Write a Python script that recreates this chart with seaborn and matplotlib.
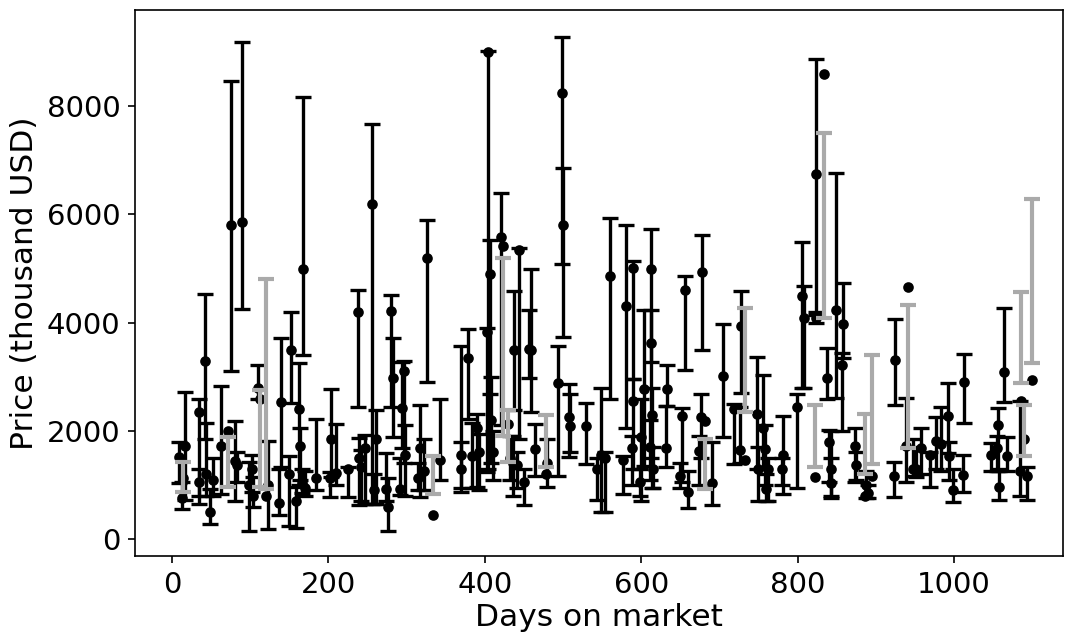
import pandas as pd
import matplotlib
matplotlib.use('Agg')
import matplotlib.pyplot as plt
import seaborn as sns

# =============================================================================
# Data
# =============================================================================
days = [9, 13, 14, 16, 34, 35, 42, 44, 49, 53, 62, 71, 76, 80, 83, 90, 98, 102, 104, 110,
        112, 120, 123, 137, 139, 150, 152, 158, 162, 164, 166, 168, 170, 184, 202, 203, 210, 225, 238, 239,
        241, 247, 256, 258, 261, 274, 276, 280, 282, 292, 294, 296, 298, 314, 317, 322, 326, 334, 343, 369,
        370, 378, 384, 390, 392, 403, 404, 406, 408, 410, 421, 423, 430, 432, 436, 437, 441, 443, 450, 457,
        459, 464, 478, 480, 494, 499, 500, 508, 509, 529, 544, 548, 554, 560, 576, 580, 588, 589, 590, 598,
        599, 604, 611, 612, 613, 614, 615, 632, 633, 650, 652, 656, 660, 674, 676, 677, 681, 690, 705, 718,
        726, 727, 733, 748, 749, 756, 758, 760, 762, 780, 781, 799, 806, 808, 822, 823, 824, 833, 838, 840,
        842, 843, 849, 857, 858, 873, 874, 886, 887, 890, 895, 923, 924, 938, 941, 948, 951, 957, 969, 977,
        983, 992, 993, 999, 1011, 1012, 1047, 1055, 1056, 1057, 1064, 1068, 1084, 1086, 1089, 1093, 1099]

price = [1520, 760, 1130, 1720, 1060, 2350, 3300, 1200, 500, 1100, 1720, 1990, 5800, 1450, 1360, 5870, 1000, 1300, 800, 2800,
         2580, 790, 1000, 670, 2540, 1200, 3500, 700, 2400, 1720, 1030, 5000, 950, 1130, 1130, 1850, 1230, 1300, 4200, 1490,
         1330, 1690, 6200, 900, 1850, 930, 600, 4220, 2980, 930, 2420, 3100, 1560, 1130, 1690, 1250, 5200, 440, 1460, 1560,
         1290, 3340, 1530, 2050, 1600, 3830, 9000, 4900, 2200, 1600, 5580, 5420, 2120, 1490, 1400, 3500, 1360, 5350, 1060, 3520,
         3500, 1660, 1200, 1400, 2890, 8240, 5800, 2250, 2090, 2090, 1300, 1560, 1500, 4860, 1460, 4300, 1690, 5020, 2550, 1060,
         1890, 2780, 1700, 3620, 4990, 2300, 1300, 1690, 2780, 1160, 2280, 4610, 870, 1620, 2250, 4930, 2180, 1030, 3020, 2400,
         1650, 3930, 1460, 2320, 1290, 2050, 1660, 930, 1290, 1300, 1560, 2450, 4500, 4080, 1150, 6740, 4090, 8590, 2980, 1790,
         1030, 1300, 4230, 3220, 3970, 1720, 1360, 800, 1000, 850, 1160, 1160, 3310, 1720, 4660, 1290, 1300, 1690, 1560, 1820,
         1760, 2280, 1530, 910, 1180, 2910, 1560, 1690, 2100, 960, 3080, 1530, 1260, 2550, 1850, 1160, 2940]

lower = [1030, 560, 865, 730, 800, 640, 1850, 800, 270, 800, 830, 960, 3110, 700, 1050, 4260, 150, 870, 600, 2580,
         960, 930, 180, 440, 1330, 240, 2510, 200, 1000, 1100, 850, 3410, 800, 900, 770, 1150, 1000, 770, 2450, 630,
         700, 640, 640, 640, 640, 700, 140, 2450, 1890, 820, 1680, 1400, 800, 900, 770, 900, 2910, 830, 1100, 870,
         950, 2220, 940, 960, 900, 1240, 1300, 2680, 1400, 1100, 2100, 1900, 1430, 1100, 800, 2380, 950, 1850, 630, 2980,
         2350, 1160, 1330, 960, 1160, 5080, 3740, 1520, 1600, 1390, 730, 500, 500, 2580, 830, 2050, 1000, 2960, 1300, 800,
         700, 1350, 1100, 1500, 3270, 950, 950, 1330, 2460, 950, 1050, 3130, 570, 1000, 1500, 3490, 930, 630, 1880, 1390,
         1400, 2700, 2340, 1300, 700, 1300, 1000, 700, 700, 1000, 830, 950, 2800, 2790, 1330, 4200, 4000, 4080, 2580, 1050,
         800, 750, 2610, 1990, 3340, 1060, 1100, 1200, 750, 750, 1390, 770, 2480, 1060, 1690, 1160, 1150, 1200, 960, 1290,
         1260, 1590, 1100, 690, 870, 2150, 1260, 1250, 1300, 730, 2540, 1260, 800, 2890, 1530, 730, 3260]

upper = [1790, 1050, 1430, 2710, 1300, 2580, 4530, 2150, 930, 1500, 2830, 1890, 8460, 2190, 1600, 9190, 1430, 1550, 1150, 3210,
         2750, 4800, 1820, 1300, 3720, 1530, 4200, 960, 3250, 2050, 1300, 8170, 1250, 2220, 1240, 2780, 2120, 1330, 4610, 1860,
         1650, 1920, 7680, 1200, 2380, 1590, 1130, 4520, 3720, 1500, 3280, 3300, 2100, 1400, 2480, 1850, 5900, 1530, 2580, 3570,
         1800, 3880, 2150, 2320, 1950, 3900, 9020, 5520, 3000, 2000, 6400, 5200, 2380, 1900, 1900, 4590, 1600, 5380, 1300, 4230,
         4990, 2120, 2300, 1850, 3570, 9290, 6860, 2870, 2680, 2520, 1500, 2800, 1600, 5930, 1540, 5800, 1900, 5140, 2960, 1300,
         2580, 4230, 2200, 4230, 5740, 2800, 1700, 2460, 3220, 1400, 2430, 4860, 1260, 1900, 2680, 5620, 1850, 1790, 3970, 2500,
         2450, 4580, 4280, 3360, 1700, 3040, 2100, 1200, 1500, 1500, 2270, 2680, 5500, 4670, 2470, 8880, 4150, 7510, 3540, 2020,
         1500, 2000, 6770, 3440, 4730, 2050, 1600, 2320, 1250, 1000, 3410, 1430, 4070, 2610, 4330, 1850, 1700, 2050, 1600, 2250,
         2450, 2890, 1800, 1290, 1560, 3420, 1770, 1900, 2420, 1250, 4280, 1890, 2550, 4560, 2480, 1330, 6280]

# 1 = interval drawn in gray
missed = [0, 0, 1, 0, 0, 0, 0, 0, 0, 0, 0, 1, 0, 0, 0, 0, 0, 0, 0, 0,
          1, 1, 0, 0, 0, 0, 0, 0, 0, 0, 0, 0, 0, 0, 0, 0, 0, 0, 0, 0,
          0, 0, 0, 0, 0, 0, 0, 0, 0, 0, 0, 0, 0, 0, 0, 0, 0, 1, 0, 0,
          0, 0, 0, 0, 0, 0, 0, 0, 0, 0, 0, 1, 1, 0, 0, 0, 0, 0, 0, 0,
          0, 0, 1, 0, 0, 0, 0, 0, 0, 0, 0, 0, 0, 0, 0, 0, 0, 0, 0, 0,
          0, 0, 0, 0, 0, 0, 0, 0, 0, 0, 0, 0, 0, 0, 0, 0, 1, 0, 0, 0,
          0, 0, 1, 0, 0, 0, 0, 0, 0, 0, 0, 0, 0, 0, 1, 0, 0, 1, 0, 0,
          0, 0, 0, 0, 0, 0, 0, 1, 0, 0, 1, 0, 0, 0, 1, 0, 0, 0, 0, 0,
          0, 0, 0, 0, 0, 0, 0, 0, 0, 0, 0, 0, 0, 1, 1, 0, 1]

df = pd.DataFrame({'days': days, 'price': price, 'lower': lower,
                   'upper': upper, 'missed': missed})
df['mid'] = (df['lower'] + df['upper']) / 2
df['half'] = (df['upper'] - df['lower']) / 2

ok = df[df['missed'] == 0]
miss = df[df['missed'] == 1]

# =============================================================================
# Plot
# =============================================================================
fig, ax = plt.subplots(figsize=(7.1, 634 / 150), dpi=150)
fig.subplots_adjust(left=0.127, right=0.998, top=0.984, bottom=0.123)

ax.errorbar(ok['days'], ok['mid'], yerr=ok['half'], fmt='none', ecolor='black',
            elinewidth=1.6, capsize=4, capthick=1.6, zorder=2)
sns.scatterplot(data=df, x='days', y='price', color='black', s=26,
                linewidth=0, ax=ax, zorder=3)
ax.errorbar(miss['days'], miss['mid'], yerr=miss['half'], fmt='none', ecolor='#aaaaaa',
            elinewidth=2.0, capsize=4, capthick=2.0, zorder=4)

ax.set_xlim(-47, 1139)
ax.set_ylim(-314, 9778)
ax.set_xticks([0, 200, 400, 600, 800, 1000])
ax.set_yticks([0, 2000, 4000, 6000, 8000])
ax.tick_params(labelsize=14)
ax.set_xlabel('Days on market', fontsize=15, labelpad=2)
ax.set_ylabel('Price (thousand USD)', fontsize=15, labelpad=4)

fig.savefig('out.png', dpi=150)
